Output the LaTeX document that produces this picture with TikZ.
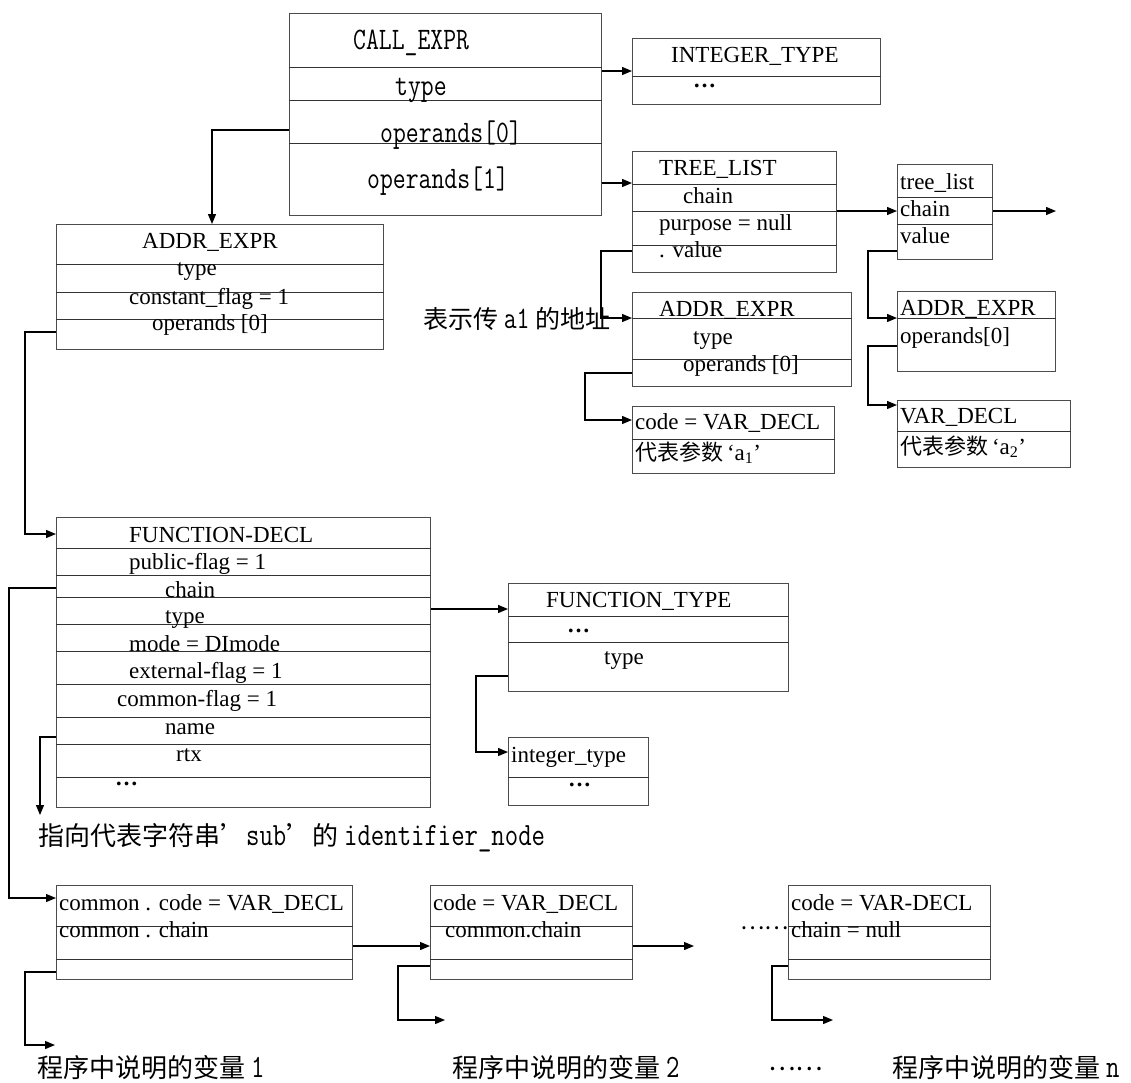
\documentclass[tikz,border=0pt]{standalone}
\usepackage{fontspec}
\usepackage{graphicx}
\setmainfont{Liberation Serif}
\newfontfamily\cjk{Noto Sans CJK SC}
\usetikzlibrary{arrows.meta}
\tikzset{
  rbox/.style={draw=black!70, line width=1pt, inner sep=0pt, anchor=north west},
  sepl/.style={draw=black!80, line width=1pt},
  conn/.style={draw=black, line width=1.3pt},
  arr/.style={conn, -{Triangle[length=10pt,width=8pt]}},
  tx/.style={anchor=base west, inner sep=0pt, font=\fontsize{23}{23}\selectfont},
  mtx/.style={anchor=base west, inner sep=0pt, font=\fontsize{25}{25}\selectfont\ttfamily},
  ctx/.style={anchor=base west, inner sep=0pt, font=\fontsize{26}{26}\selectfont\cjk},
}
\newcommand{\mkbox}[5]{\node[rbox, minimum width=#4pt, minimum height=#5pt] (#1) at (#2,#3) {};}
\newcommand{\sepat}[2]{\draw[sepl] (#1.west |- 0,#2) -- (#1.east |- 0,#2);}
\newcommand{\tallmono}[1]{\scalebox{1}[1.25]{\ttfamily #1}}
\newcommand{\hdots}{\textbf{\ldots}}
\begin{document}
\begin{tikzpicture}[x=1pt,y=-1pt]
\useasboundingbox (0,0) rectangle (1131,1082);
% boxes
\mkbox{call}{289}{13}{312}{202}
\sepat{call}{67}\sepat{call}{100}\sepat{call}{143}
\mkbox{inttype}{632}{38}{248}{66}
\sepat{inttype}{76}
\mkbox{treelist}{632}{151}{204}{121}
\sepat{treelist}{184}\sepat{treelist}{211}\sepat{treelist}{245}
\mkbox{tlist}{897}{164}{95}{95}
\sepat{tlist}{197}\sepat{tlist}{224}
\mkbox{addr1}{56}{224}{327}{125}
\sepat{addr1}{264}\sepat{addr1}{292}\sepat{addr1}{319}
\mkbox{addr2}{632}{292}{219}{94}
\sepat{addr2}{318}\sepat{addr2}{359}
\mkbox{addr3}{897}{291}{158}{80}
\sepat{addr3}{318}
\mkbox{vard1}{632}{406}{202}{67}
\sepat{vard1}{439}
\mkbox{vard2}{897}{400}{173}{67}
\sepat{vard2}{431}
\mkbox{fdecl}{56}{517}{374}{290}
\foreach \yy in {548,575,597,624,651,684,717,744,777} {\sepat{fdecl}{\yy}}
\mkbox{ftype}{508}{583}{280}{108}
\sepat{ftype}{616}\sepat{ftype}{642}
\mkbox{itype}{508}{737}{140}{68}
\sepat{itype}{777}
\mkbox{com1}{56}{885}{296}{94}
\sepat{com1}{926}\sepat{com1}{959}
\mkbox{com2}{430}{885}{202}{94}
\sepat{com2}{926}\sepat{com2}{959}
\mkbox{com3}{788}{885}{202}{94}
\sepat{com3}{926}\sepat{com3}{959}
% texts CALL_EXPR
\node[mtx] (tc0) at (353,49) {\tallmono{CALL\_EXPR}};
\node[mtx] (tc1) at (395,95) {\tallmono{type}};
\node[mtx] (tc2) at (380,142) {\tallmono{operands[0]}};
\node[mtx] (tc3) at (367,188) {\tallmono{operands[1]}};
% INTEGER_TYPE
\node[tx] (ti0) at (671,62) {INTEGER\_TYPE};
\node[tx] (ti1) at (693,87) {\hdots};
% TREE_LIST
\node[tx] (tt0) at (659,175) {TREE\_LIST};
\node[tx] (tt1) at (683,203) {chain};
\node[tx] (tt2) at (659,230) {purpose = null};
\node[tx] (tt3) at (659,257) {. value};
% tree_list
\node[tx] (tl0) at (900,189) {tree\_list};
\node[tx] (tl1) at (900,216) {chain};
\node[tx] (tl2) at (900,243) {value};
% ADDR_EXPR 1
\node[tx] (ta0) at (142,248) {ADDR\_EXPR};
\node[tx] (ta1) at (177,275) {type};
\node[tx] (ta2) at (129,304) {constant\_flag = 1};
\node[tx] (ta3) at (152,330) {operands [0]};
% ADDR_EXPR 2
\node[tx] (tb0) at (659,316) {ADDR\_EXPR};
\node[tx] (tb1) at (693,344) {type};
\node[tx] (tb2) at (683,371) {operands [0]};
\node[tx] (tv0) at (635,429) {code = VAR\_DECL};
\node[tx] (tv1) at (635,460) {{\fontsize{22}{22}\selectfont\cjk 代表参数}\,‘a\textsubscript{1}’};
% ADDR_EXPR 3
\node[tx] (td0) at (900,315) {ADDR\_EXPR};
\node[tx] (td1) at (900,343) {operands[0]};
\node[tx] (tw0) at (900,423) {VAR\_DECL};
\node[tx] (tw1) at (900,454) {{\fontsize{22}{22}\selectfont\cjk 代表参数}\,‘a\textsubscript{2}’};
% FUNCTION-DECL
\node[tx] (tf0) at (129,542) {FUNCTION-DECL};
\node[tx] (tf1) at (129,569) {public-flag = 1};
\node[tx] (tf2) at (165,597) {chain};
\node[tx] (tf3) at (165,623) {type};
\node[tx] (tf4) at (129,651) {mode = DImode};
\node[tx] (tf5) at (129,678) {external-flag = 1};
\node[tx] (tf6) at (117,706) {common-flag = 1};
\node[tx] (tf7) at (165,734) {name};
\node[tx] (tf8) at (176,761) {rtx};
\node[tx] (tf9) at (115,785) {\hdots};
% FUNCTION_TYPE
\node[tx] (tg0) at (546,607) {FUNCTION\_TYPE};
\node[tx] (tg1) at (567,632) {\hdots};
\node[tx] (tg2) at (604,664) {type};
\node[tx] (th0) at (511,762) {integer\_type};
\node[tx] (th1) at (568,786) {\hdots};
% bottom boxes
\node[tx] (tm0) at (59,910) {common . code = VAR\_DECL};
\node[tx] (tm1) at (59,937) {common . chain};
\node[tx] (tn0) at (433,910) {code = VAR\_DECL};
\node[tx] (tn1) at (445,937) {common.chain};
\node[tx] (tp0) at (791,910) {code = VAR-DECL};
\node[tx] (tp1) at (791,937) {chain = null};
\node[anchor=base west, inner sep=0pt, font=\fontsize{23}{23}\selectfont\cjk] (dots1) at (740,929) {……};
% labels
\node[ctx, font=\fontsize{25}{25}\selectfont\cjk] (lab1) at (423,328) {表示传 \tallmono{a1} 的地址};
\node[ctx] (lab2) at (38,845) {指向代表字符串’\tallmono{sub}’的 \tallmono{identifier\_node}};
\node[ctx] (lab3) at (37,1077) {程序中说明的变量 \tallmono{1}};
\node[ctx] (lab4) at (452,1077) {程序中说明的变量 \tallmono{2}};
\node[ctx] (lab5) at (768,1070) {……};
\node[ctx] (lab6) at (892,1077) {程序中说明的变量 \tallmono{n}};
% free ends
\coordinate (tlend) at (1056,211);
\coordinate (idend) at (40,815);
\coordinate (c2end) at (694,946);
\coordinate (v1end) at (55,1045);
\coordinate (v2end) at (445,1020);
\coordinate (v3end) at (833,1020);
% connectors
\draw[arr] (call.west |- 0,130) -| (addr1.north -| 212,0);
\draw[arr] (call.east |- 0,71) -- (inttype.west |- 0,71);
\draw[arr] (call.east |- 0,183) -- (treelist.west |- 0,183);
\draw[arr] (treelist.east |- 0,211) -- (tlist.west |- 0,211);
\draw[arr] (tlist.east |- 0,211) -- (tlend);
\draw[arr] (treelist.west |- 0,251) -- ++(-31,0) |- (addr2.west |- 0,318);
\draw[arr] (tlist.west |- 0,251) -- ++(-29,0) |- (addr3.west |- 0,318);
\draw[arr] (addr2.west |- 0,373) -- ++(-47,0) |- (vard1.west |- 0,420);
\draw[arr] (addr3.west |- 0,346) -- ++(-29,0) |- (vard2.west |- 0,405);
\draw[arr] (addr1.west |- 0,332) -- ++(-31,0) |- (fdecl.west |- 0,534);
\draw[arr] (fdecl.west |- 0,588) -- ++(-47,0) |- (com1.west |- 0,898);
\draw[arr] (fdecl.west |- 0,737) -| (idend);
\draw[arr] (fdecl.east |- 0,609) -- (ftype.west |- 0,609);
\draw[arr] (ftype.west |- 0,676) -- ++(-32,0) |- (itype.west |- 0,752);
\draw[arr] (com1.east |- 0,946) -- (com2.west |- 0,946);
\draw[arr] (com2.east |- 0,946) -- (c2end);
\draw[arr] (com1.west |- 0,972) -- ++(-31,0) |- (v1end);
\draw[arr] (com2.west |- 0,966) -- ++(-32,0) |- (v2end);
\draw[arr] (com3.west |- 0,966) -- ++(-16,0) |- (v3end);
\end{tikzpicture}
\end{document}
